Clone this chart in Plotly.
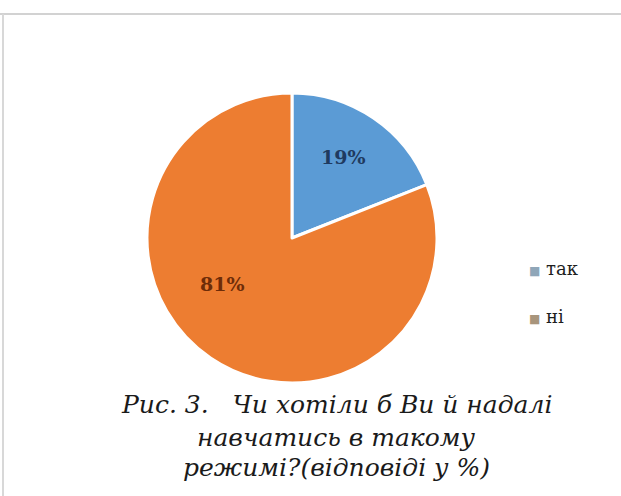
import plotly.graph_objects as go

categories = ["так", "ні"]
values = [19, 81]
slice_colors = ["#5B9BD5", "#ED7D31"]
label_colors = ["#1F3A60", "#6E2C08"]
legend_marker_colors = ["#8FA6B8", "#A8957C"]
caption_lines = ["Рис. 3.&nbsp;&nbsp; Чи хотіли б Ви й надалі", "навчатись в такому", "режимі?(відповіді у %)"]

fig = go.Figure()
fig.add_trace(go.Pie(
    labels=categories,
    values=values,
    sort=False,
    direction="clockwise",
    rotation=0,
    marker=dict(colors=slice_colors, line=dict(color="white", width=3)),
    textinfo="none",
    showlegend=False,
    hoverinfo="label+percent",
    domain=dict(x=[0.2367, 0.7037], y=[0.2278, 0.8125]),
))

annotations = []
# percentage labels (text from the data values)
label_pos = [(343 / 621, 1 - 157 / 496), (222 / 621, 1 - 284 / 496)]
total = sum(values)
for v, col, (px, py) in zip(values, label_colors, label_pos):
    annotations.append(dict(
        x=px, y=py, xref="paper", yref="paper", xanchor="center", yanchor="middle",
        text=f"<b>{round(100 * v / total)}%</b>", showarrow=False,
        font=dict(family="DejaVu Serif", size=19, color=col),
    ))

legend_y = [1 - 268 / 496, 1 - 316 / 496]
for cat, col, yy in zip(categories, legend_marker_colors, legend_y):
    annotations.append(dict(
        x=0.848, y=yy, xref="paper", yref="paper", xanchor="left", yanchor="middle",
        text=f'<span style="color:{col};font-size:12px">■</span> {cat}',
        showarrow=False,
        font=dict(family="DejaVu Serif", size=18, color="#1E1E1E"),
    ))

caption_y = [1 - 404 / 496, 1 - 437 / 496, 1 - 467 / 496]
for line, yy in zip(caption_lines, caption_y):
    annotations.append(dict(
        x=336 / 621, y=yy, xref="paper", yref="paper", xanchor="center", yanchor="middle",
        text=f"<i>{line}</i>", showarrow=False,
        font=dict(family="DejaVu Serif", size=25, color="#1A1A1A"),
    ))

fig.update_layout(
    width=621, height=496,
    margin=dict(l=0, r=0, t=0, b=0),
    paper_bgcolor="white",
    plot_bgcolor="white",
    annotations=annotations,
    shapes=[
        dict(type="line", xref="paper", yref="paper", x0=0, x1=1, y0=1 - 14 / 496, y1=1 - 14 / 496,
             line=dict(color="#D2D2D2", width=2)),
        dict(type="line", xref="paper", yref="paper", x0=3 / 621, x1=3 / 621, y0=0, y1=1 - 14 / 496,
             line=dict(color="#D8D8D8", width=2)),
    ],
)

fig.write_html("out.html")
